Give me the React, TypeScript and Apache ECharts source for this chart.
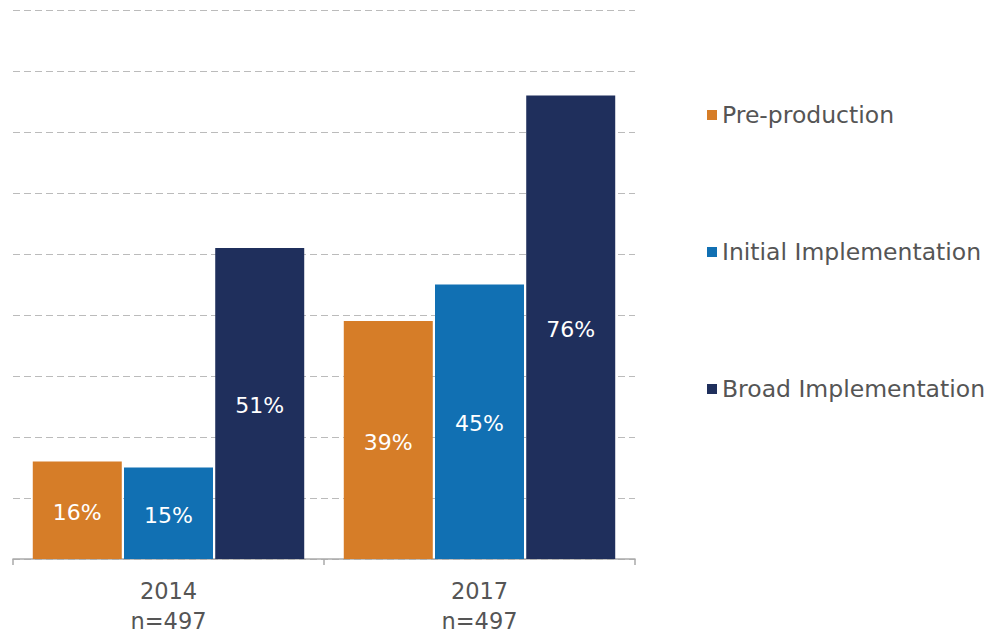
import React, { useEffect, useRef } from "react";
import * as echarts from "echarts";

const categories = ["2014\nn=497", "2017\nn=497"];
const seriesNames = ["Pre-production", "Initial Implementation", "Broad Implementation"];
const preProduction = [16, 39];
const initialImpl = [15, 45];
const broadImpl = [51, 76];
const colors = ["#D67D28", "#1170B3", "#1F2F5C"];

export default function App() {
  const ref = useRef<HTMLDivElement>(null);
  useEffect(() => {
    const chart = echarts.init(ref.current!, null, { renderer: "svg" });
    const font = "'DejaVu Sans', sans-serif";
    const values = [preProduction, initialImpl, broadImpl];
    chart.setOption({
      animation: false,
      textStyle: { fontFamily: font },
      grid: { left: 13, right: 359, top: 10, bottom: 75, containLabel: false },
      legend: {
        orient: "vertical",
        left: 702,
        top: 98,
        itemWidth: 10,
        itemHeight: 10,
        itemGap: 113,
        icon: "rect",
        textStyle: { fontSize: 23.5, color: "#555", fontFamily: font, padding: [0, 0, 0, 0] },
        data: seriesNames,
      },
      xAxis: {
        type: "category",
        data: categories,
        axisLine: { lineStyle: { color: "#aaa", width: 1.5 } },
        axisTick: { show: true, length: 6, lineStyle: { color: "#aaa", width: 1.5 } },
        axisLabel: { fontSize: 22.5, color: "#555", lineHeight: 30, margin: 17, fontFamily: font },
      },
      yAxis: {
        type: "value",
        min: 0,
        max: 90,
        interval: 10,
        axisLabel: { show: false },
        axisLine: { show: false },
        axisTick: { show: false },
        splitLine: { lineStyle: { color: "#bbbbbb", type: [7, 4], width: 1.2 } },
      },
      series: seriesNames.map((name, i) => ({
        name,
        type: "bar",
        data: values[i],
        barWidth: 89,
        barGap: "2.5%",
        itemStyle: { color: colors[i] },
        label: {
          show: true,
          position: "inside",
          offset: [0, 2],
          formatter: "{c}%",
          color: "#fff",
          fontSize: 22,
          fontFamily: font,
        },
      })),
    });
    return () => chart.dispose();
  }, []);
  return <div ref={ref} style={{ width: 994, height: 636, position: "absolute", left: 0, top: 0 }} />;
}
